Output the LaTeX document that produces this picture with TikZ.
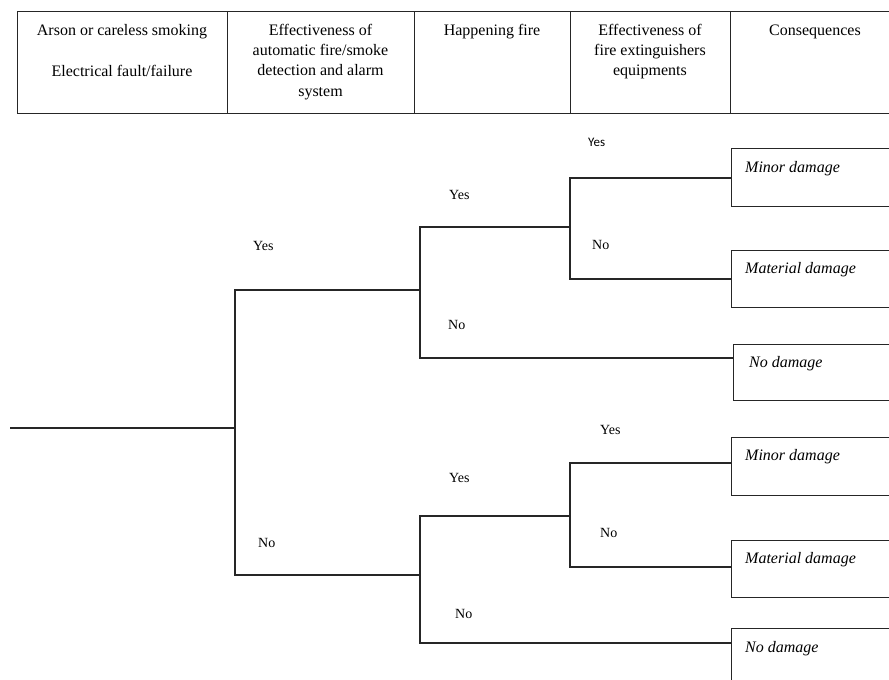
\documentclass[tikz,border=0pt]{standalone}
\usepackage{fontspec}
\setmainfont{Liberation Serif}
\newfontfamily\branchsans{Carlito}
\begin{document}
\begin{tikzpicture}[x=1pt,y=-1pt,
  line/.style={draw=black!85,line width=1.1pt},
  cell/.style={line,rectangle,anchor=north west,inner sep=0,minimum height=102pt},
  headtext/.style={anchor=north,inner sep=0,align=center,font=\fontsize{16}{20.3}\selectfont},
  outcome/.style={line,rectangle,anchor=north west,inner sep=0,minimum width=300pt},
  outtext/.style={anchor=base west,inner sep=0,font=\fontsize{16}{19}\selectfont\itshape},
  branch/.style={anchor=west,inner sep=0,font=\fontsize{14}{16}\selectfont},
]
\useasboundingbox (0,0) rectangle (889,680);
\clip (0,0) rectangle (889,680);

% header table
\node[cell,minimum width=210pt] (h1) at (17,11) {};
\node[cell,minimum width=187pt] (h2) at (227,11) {};
\node[cell,minimum width=156pt] (h3) at (414,11) {};
\node[cell,minimum width=160pt] (h4) at (570,11) {};
\node[cell,minimum width=200pt] (h5) at (730,11) {};
\node[headtext] (t1) at (122,20.8) {\strut Arson or careless smoking\\[20.5pt]Electrical fault/failure};
\node[headtext] (t2) at (320.5,20.8) {\strut Effectiveness of\\automatic fire/smoke\\detection and alarm\\system};
\node[headtext] (t3) at (492,20.8) {\strut Happening fire};
\node[headtext] (t4) at (650,20.8) {\strut Effectiveness of\\fire extinguishers\\equipments};
\node[headtext] (t5) at (815,20.8) {\strut Consequences};

% outcome boxes
\node[outcome,minimum height=58pt] (min1) at (731,148) {};
\node[outcome,minimum height=57pt] (mat1) at (731,250) {};
\node[outcome,minimum height=56pt] (nod1) at (733,344) {};
\node[outcome,minimum height=58pt] (min2) at (731,437) {};
\node[outcome,minimum height=57pt] (mat2) at (731,540) {};
\node[outcome,minimum height=57pt] (nod2) at (731,628) {};
\node[outtext] (min1t) at (745,172) {Minor damage};
\node[outtext] (mat1t) at (745,273) {Material damage};
\node[outtext] (nod1t) at (749,367) {No damage};
\node[outtext] (min2t) at (745,460) {Minor damage};
\node[outtext] (mat2t) at (745,563) {Material damage};
\node[outtext] (nod2t) at (745,652) {No damage};

% tree junctions
\coordinate (root) at (10,428);
\coordinate (s1) at (235,428);
\coordinate (a) at (420,290);
\coordinate (b) at (420,575);
\coordinate (c) at (570,227);
\coordinate (d) at (570,516);

\draw[line] (root) -- (s1);
\draw[line] (s1) |- (a);
\draw[line] (s1) |- (b);
\draw[line] (a) |- (c);
\draw[line] (nod1.west |- 0,358) -| (a);
\draw[line] (b) |- (d);
\draw[line] (nod2.west |- 0,643) -| (b);
\draw[line] (min1.west |- 0,178) -| (c);
\draw[line] (mat1.west |- 0,279) -| (c);
\draw[line] (min2.west |- 0,463) -| (d);
\draw[line] (mat2.west |- 0,567) -| (d);

% branch labels
\node[branch] (y1) at (253,246) {Yes};
\node[branch] (n1) at (258,543) {No};
\node[branch] (y2) at (449,195) {Yes};
\node[branch] (n2) at (448,325) {No};
\node[branch] (y3) at (449,478) {Yes};
\node[branch] (n3) at (455,614) {No};
\node[branch,font=\branchsans\fontsize{13}{15}\selectfont] (y4) at (588,142) {Yes};
\node[branch] (n4) at (592,245) {No};
\node[branch] (y5) at (600,430) {Yes};
\node[branch] (n5) at (600,533) {No};
\end{tikzpicture}
\end{document}
